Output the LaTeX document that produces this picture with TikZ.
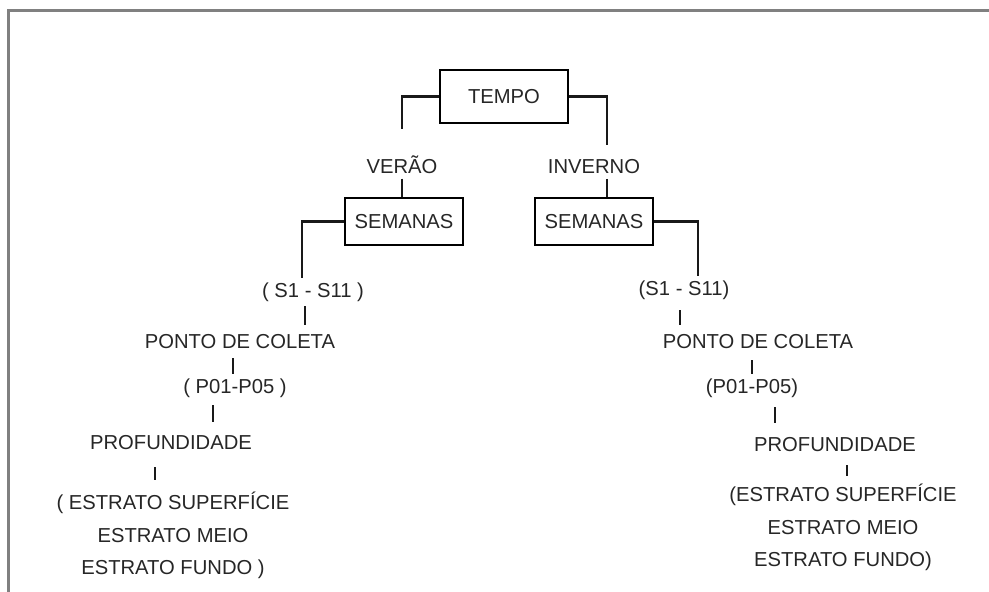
\documentclass[tikz,border=0pt]{standalone}
\usepackage{fontspec}
\setmainfont{Liberation Sans}
\usepackage{xcolor}
\usepackage{tikz}

\begin{document}
\begin{tikzpicture}[scale=1.0]
      \tikzset{box/.style={rectangle,draw,line width=1.6pt,text=black!85,font=\fontsize{11.5}{14}\selectfont}}
      \tikzset{lbl/.style={text=black!85,inner sep=2.5pt,font=\fontsize{11.5}{14}\selectfont}}
      \tikzset{strata/.style={text=black!85,align=center,font=\fontsize{11.5}{18.5}\selectfont}}
      \tikzset{link/.style={line width=1.6pt,black!90}}
      \tikzset{frame/.style={line width=1.2pt,gray}}

      \useasboundingbox (0,0) rectangle (19.78,-11.84);
      \draw[frame] (0.17,-11.84) |- (19.78,-0.21);

      \node[box,minimum width=25.6mm,minimum height=10.6mm] (tempo) at (10.08,-1.93) {TEMPO};

      \node[lbl] (ver) [below of=tempo,xshift=-20.4mm,yshift=-3.7mm] {VERÃO};
      \node[lbl] (inv) [below of=tempo,xshift=18mm,yshift=-4.1mm] {INVERNO};

      \node[box,minimum width=23.6mm,minimum height=9.4mm] (semv) [below of=ver,xshift=0.4mm,yshift=-1.3mm] {SEMANAS};
      \node[box,minimum width=23.6mm,minimum height=9.4mm] (semi) [below of=inv,yshift=-0.9mm] {SEMANAS};

      % verao
      \node[lbl] (sv) [below of=semv,xshift=-18.2mm,yshift=-4.1mm] {( S1 - S11 )};
      \node[lbl] (pv) [below of=sv,xshift=-14.6mm] {PONTO DE COLETA};
      \node[lbl] (nv) [below of=pv,xshift=-1mm,yshift=0.8mm] {( P01-P05 )};
      \node[lbl] (fv) [below of=nv,xshift=-12.8mm,yshift=-1mm] {PROFUNDIDADE};
      \node[strata] (ev) [below of=fv,xshift=0.4mm,yshift=-8.5mm] {( ESTRATO SUPERFÍCIE\\ESTRATO MEIO\\ESTRATO FUNDO )};

      % inverno
      \node[lbl] (si) [below of=semi,xshift=18mm,yshift=-3.7mm] {(S1 - S11)};
      \node[lbl] (pi) [below of=si,xshift=14.8mm,yshift=-0.4mm] {PONTO DE COLETA};
      \node[lbl] (ni) [below of=pi,xshift=-1.2mm,yshift=0.8mm] {(P01-P05)};
      \node[lbl] (fi) [below of=ni,xshift=16.6mm,yshift=-1.4mm] {PROFUNDIDADE};
      \node[strata] (ei) [below of=fi,xshift=1.6mm,yshift=-6.5mm] {(ESTRATO SUPERFÍCIE\\ESTRATO MEIO\\ESTRATO FUNDO)};

      \draw[link,shorten >=4.4mm] (tempo.west) -| (ver.north);
      \draw[link,shorten >=2.1mm] (tempo.east) -| ([xshift=2.6mm]inv.north);
      \draw[link] (ver.south) -- (ver.south |- semv.north);
      \draw[link] ([xshift=2.6mm]inv.south) -- ([xshift=2.6mm]inv.south |- semi.north);

      \draw[link] (semv.west) -| ([xshift=-2.2mm]sv.north);
      \draw[link] (semi.east) -| ([xshift=2.8mm]si.north);

      \draw[link,shorten >=1.1mm] ([xshift=-1.6mm]sv.south) -- ([xshift=-1.6mm]sv.south |- pv.north);
      \draw[link,shorten <=0.9mm] ([xshift=-1.4mm]pv.south) -- ([xshift=-1.4mm]pv.south |- nv.north);
      \draw[link,shorten <=0.6mm,shorten >=1.9mm] ([xshift=-4.4mm]nv.south) -- ([xshift=-4.4mm]nv.south |- fv.north);
      \draw[link,shorten <=2.5mm,shorten >=1.1mm] ([xshift=-3.2mm]fv.south) -- ([xshift=-3.2mm]fv.south |- ev.north);

      \draw[link,shorten <=1.2mm,shorten >=1.1mm] ([xshift=-0.8mm]si.south) -- ([xshift=-0.8mm]si.south |- pi.north);
      \draw[link,shorten <=1.3mm] ([xshift=-1.2mm]pi.south) -- ([xshift=-1.2mm]pi.south |- ni.north);
      \draw[link,shorten <=1mm,shorten >=2.1mm] ([xshift=4.6mm]ni.south) -- ([xshift=4.6mm]ni.south |- fi.north);
      \draw[link,shorten <=1.7mm,shorten >=0.3mm] ([xshift=2.4mm]fi.south) -- ([xshift=2.4mm]fi.south |- ei.north);

    \end{tikzpicture}
\end{document}
